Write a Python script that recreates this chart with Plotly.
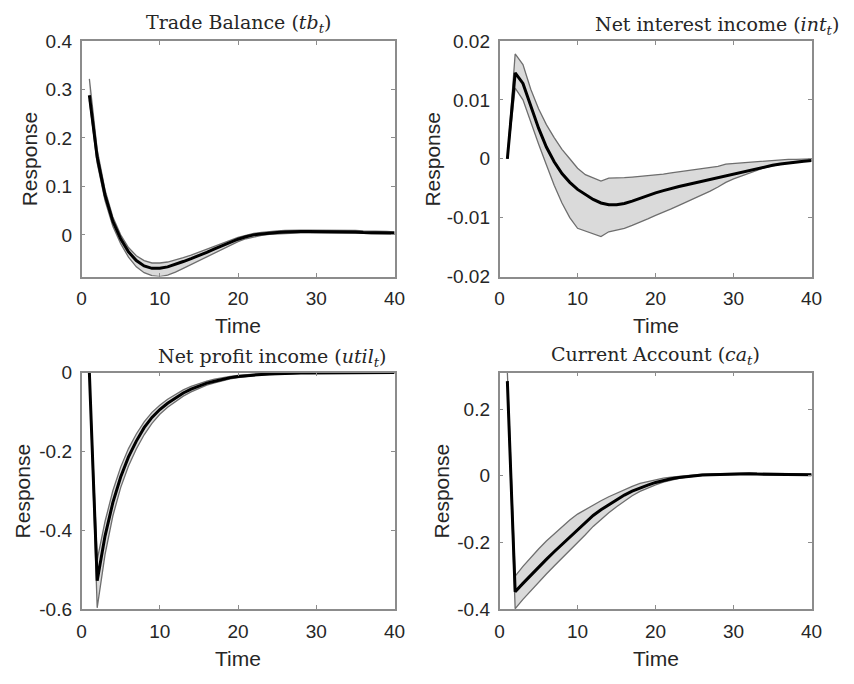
import plotly.graph_objects as go

W, H = 854, 684

time = list(range(1, 41))

tb_mean = [0.288, 0.160, 0.082, 0.028, -0.008, -0.035, -0.053, -0.064, -0.069, -0.069,
           -0.066, -0.061, -0.055, -0.049, -0.043, -0.036, -0.029, -0.022, -0.015, -0.009,
           -0.004, 0.000, 0.002, 0.004, 0.005, 0.006, 0.007, 0.007, 0.007, 0.007,
           0.007, 0.007, 0.006, 0.006, 0.006, 0.005, 0.005, 0.005, 0.004, 0.004]
tb_upper = [0.322, 0.176, 0.093, 0.037, 0.000, -0.026, -0.043, -0.053, -0.058, -0.058,
            -0.056, -0.052, -0.047, -0.042, -0.036, -0.030, -0.023, -0.017, -0.011, -0.005,
            -0.001, 0.003, 0.005, 0.007, 0.008, 0.009, 0.010, 0.010, 0.010, 0.010,
            0.010, 0.010, 0.009, 0.009, 0.009, 0.008, 0.008, 0.007, 0.007, 0.006]
tb_lower = [0.278, 0.148, 0.071, 0.018, -0.018, -0.046, -0.066, -0.078, -0.084, -0.086,
            -0.083, -0.077, -0.069, -0.061, -0.053, -0.045, -0.037, -0.029, -0.021, -0.014,
            -0.008, -0.004, -0.001, 0.001, 0.002, 0.003, 0.004, 0.004, 0.004, 0.004,
            0.004, 0.004, 0.004, 0.003, 0.003, 0.003, 0.002, 0.002, 0.002, 0.002]

int_mean = [0.0000, 0.0146, 0.0128, 0.0090, 0.0052, 0.0020, -0.0005, -0.0025, -0.0040, -0.0052,
            -0.0061, -0.0069, -0.0075, -0.0078, -0.0078, -0.0076, -0.0072, -0.0067, -0.0062, -0.0058,
            -0.0054, -0.0050, -0.0047, -0.0044, -0.0041, -0.0038, -0.0035, -0.0032, -0.0029, -0.0025,
            -0.0022, -0.0019, -0.0016, -0.0013, -0.0011, -0.0009, -0.0007, -0.0005, -0.0004, -0.0003]
int_upper = [0.0000, 0.0178, 0.0160, 0.0118, 0.0085, 0.0058, 0.0036, 0.0016, 0.0000, -0.0016,
             -0.0027, -0.0033, -0.0038, -0.0033, -0.0033, -0.0032, -0.0031, -0.0030, -0.0029, -0.0027,
             -0.0026, -0.0024, -0.0022, -0.0020, -0.0019, -0.0017, -0.0015, -0.0013, -0.0009, -0.0008,
             -0.0007, -0.0006, -0.0004, -0.0003, -0.0002, -0.0002, -0.0001, -0.0001, -0.0001, 0.0000]
int_lower = [0.0000, 0.0120, 0.0100, 0.0062, 0.0025, -0.0010, -0.0045, -0.0075, -0.0100, -0.0118,
             -0.0123, -0.0127, -0.0132, -0.0124, -0.0121, -0.0118, -0.0113, -0.0108, -0.0102, -0.0096,
             -0.0091, -0.0085, -0.0079, -0.0073, -0.0068, -0.0062, -0.0055, -0.0048, -0.0040, -0.0034,
             -0.0029, -0.0024, -0.0019, -0.0015, -0.0012, -0.0009, -0.0007, -0.0005, -0.0004, -0.0003]

util_mean = [0.0, -0.528, -0.415, -0.330, -0.265, -0.214, -0.174, -0.140, -0.114, -0.094,
             -0.078, -0.064, -0.052, -0.042, -0.034, -0.027, -0.022, -0.017, -0.013, -0.010,
             -0.008, -0.006, -0.005, -0.004, -0.003, -0.002, -0.0015, -0.001, -0.001, -0.0008,
             -0.0006, -0.0005, -0.0004, -0.0003, -0.0002, -0.0002, -0.0001, -0.0001, -0.0001, 0.0]
util_upper = [0.0, -0.475, -0.378, -0.300, -0.240, -0.193, -0.156, -0.125, -0.101, -0.083,
              -0.068, -0.055, -0.044, -0.035, -0.028, -0.022, -0.017, -0.013, -0.010, -0.007,
              -0.005, -0.004, -0.003, -0.002, -0.0015, -0.001, -0.0007, -0.0005, -0.0004, -0.0003,
              -0.0002, -0.0002, -0.0001, -0.0001, -0.0001, 0.0, 0.0, 0.0, 0.0, 0.0]
util_lower = [0.0, -0.597, -0.462, -0.364, -0.292, -0.237, -0.194, -0.158, -0.129, -0.106,
              -0.088, -0.073, -0.060, -0.049, -0.040, -0.032, -0.026, -0.021, -0.016, -0.013,
              -0.010, -0.008, -0.006, -0.005, -0.004, -0.003, -0.002, -0.0015, -0.0012, -0.001,
              -0.0008, -0.0006, -0.0005, -0.0004, -0.0003, -0.0003, -0.0002, -0.0002, -0.0001, -0.0001]

ca_mean = [0.284, -0.348, -0.323, -0.298, -0.274, -0.251, -0.228, -0.206, -0.184, -0.162,
           -0.140, -0.119, -0.102, -0.087, -0.072, -0.058, -0.046, -0.036, -0.028, -0.020,
           -0.014, -0.009, -0.005, -0.002, 0.000, 0.002, 0.003, 0.004, 0.005, 0.005,
           0.006, 0.006, 0.005, 0.005, 0.005, 0.005, 0.004, 0.004, 0.004, 0.003]
ca_upper = [0.310, -0.301, -0.272, -0.245, -0.220, -0.196, -0.174, -0.153, -0.133, -0.115,
            -0.101, -0.088, -0.075, -0.063, -0.052, -0.042, -0.032, -0.023, -0.017, -0.011,
            -0.007, -0.004, -0.001, 0.001, 0.003, 0.005, 0.006, 0.007, 0.008, 0.008,
            0.008, 0.008, 0.008, 0.007, 0.007, 0.007, 0.006, 0.006, 0.006, 0.005]
ca_lower = [0.280, -0.399, -0.371, -0.345, -0.320, -0.295, -0.271, -0.248, -0.225, -0.202,
            -0.177, -0.152, -0.130, -0.111, -0.093, -0.076, -0.060, -0.047, -0.036, -0.027,
            -0.019, -0.013, -0.008, -0.004, -0.001, 0.001, 0.002, 0.003, 0.004, 0.004,
            0.004, 0.004, 0.004, 0.003, 0.003, 0.003, 0.002, 0.002, 0.002, 0.001]

x_ticks = [0, 10, 20, 30, 40]
x_ticktext = ["0", "10", "20", "30", "40"]
tb_yticks = [0, 0.1, 0.2, 0.3, 0.4]
tb_yticktext = ["0", "0.1", "0.2", "0.3", "0.4"]
int_yticks = [-0.02, -0.01, 0, 0.01, 0.02]
int_yticktext = ["-0.02", "-0.01", "0", "0.01", "0.02"]
util_yticks = [-0.6, -0.4, -0.2, 0]
util_yticktext = ["-0.6", "-0.4", "-0.2", "0"]
ca_yticks = [-0.4, -0.2, 0, 0.2]
ca_yticktext = ["-0.4", "-0.2", "0", "0.2"]

titles = ["Trade Balance (<i>tb<sub>t</sub></i>)",
          "Net interest income (<i>int<sub>t</sub></i>)",
          "Net profit income (<i>util<sub>t</sub></i>)",
          "Current Account (<i>ca<sub>t</sub></i>)"]

panels = [
    dict(mean=tb_mean, up=tb_upper, lo=tb_lower, yr=[-0.086, 0.4], yt=tb_yticks, ytt=tb_yticktext,
         box=(78, 397, 32, 275)),
    dict(mean=int_mean, up=int_upper, lo=int_lower, yr=[-0.02, 0.02], yt=int_yticks, ytt=int_yticktext,
         box=(504, 822, 32, 275)),
    dict(mean=util_mean, up=util_upper, lo=util_lower, yr=[-0.6, 0.0], yt=util_yticks, ytt=util_yticktext,
         box=(78, 397, 374, 618)),
    dict(mean=ca_mean, up=ca_upper, lo=ca_lower, yr=[-0.4, 0.31], yt=ca_yticks, ytt=ca_yticktext,
         box=(504, 822, 374, 618)),
]

# title placement (pixel x, pixel y center, anchor)
title_pos = [(238, 14, "center"), (852, 16, "right"), (390, 358, "right"), (663, 356, "center")]
resp_x = [25, 436, 18, 445]
time_y = [326, 326, 669, 669]

TICK_FONT = dict(family="Liberation Sans, Arial, sans-serif", size=19, color="#262626")
LABEL_FONT = dict(family="Liberation Sans, Arial, sans-serif", size=21, color="#262626")
TITLE_FONT = dict(family="DejaVu Serif, serif", size=19, color="#262626")
AX_COLOR = "#8c8c8c"
BAND_FILL = "#dadada"
BAND_EDGE = "#6e6e6e"

fig = go.Figure()
layout = dict(width=W, height=H, margin=dict(l=0, r=0, t=0, b=0),
              paper_bgcolor="white", plot_bgcolor="white", showlegend=False)
annotations = []


def px2x(px):
    return px / W


def py2y(py):
    return 1 - py / H


for i, p in enumerate(panels):
    k = "" if i == 0 else str(i + 1)
    xa, ya = "x" + k, "y" + k
    fig.add_trace(go.Scatter(x=time, y=p["up"], xaxis=xa, yaxis=ya, mode="lines",
                             line=dict(color=BAND_EDGE, width=1.3), hoverinfo="skip"))
    fig.add_trace(go.Scatter(x=time, y=p["lo"], xaxis=xa, yaxis=ya, mode="lines",
                             line=dict(color=BAND_EDGE, width=1.3), fill="tonexty",
                             fillcolor=BAND_FILL, hoverinfo="skip"))
    fig.add_trace(go.Scatter(x=time, y=p["mean"], xaxis=xa, yaxis=ya, mode="lines",
                             line=dict(color="black", width=3)))
    l, r, t, b = p["box"]
    common = dict(showgrid=False, zeroline=False, showline=True, linecolor=AX_COLOR, linewidth=1.5,
                  mirror="ticks", ticks="inside", ticklen=4, tickcolor=AX_COLOR, tickwidth=1,
                  tickfont=TICK_FONT)
    layout["xaxis" + k] = dict(domain=[px2x(l), px2x(r)], anchor=ya, range=[0, 40],
                               tickmode="array", tickvals=x_ticks, ticktext=x_ticktext,
                               ticklabelstandoff=4, **common)
    layout["yaxis" + k] = dict(domain=[py2y(b), py2y(t)], anchor=xa, range=p["yr"],
                               tickmode="array", tickvals=p["yt"], ticktext=p["ytt"],
                               ticklabelstandoff=4, **common)
    tx, ty, anc = title_pos[i]
    annotations.append(dict(text=titles[i], x=px2x(tx), y=py2y(ty), xref="paper", yref="paper",
                            xanchor=anc, yanchor="middle", showarrow=False, font=TITLE_FONT))
    annotations.append(dict(text="Response", x=px2x(resp_x[i]), y=py2y((t + b) / 2), xref="paper",
                            yref="paper", xanchor="center", yanchor="middle", textangle=-90,
                            showarrow=False, font=LABEL_FONT))
    annotations.append(dict(text="Time", x=px2x((l + r) / 2), y=py2y(time_y[i]), xref="paper",
                            yref="paper", xanchor="center", yanchor="middle", showarrow=False,
                            font=LABEL_FONT))

layout["annotations"] = annotations
fig.update_layout(**layout)
fig.write_html("out.html")
